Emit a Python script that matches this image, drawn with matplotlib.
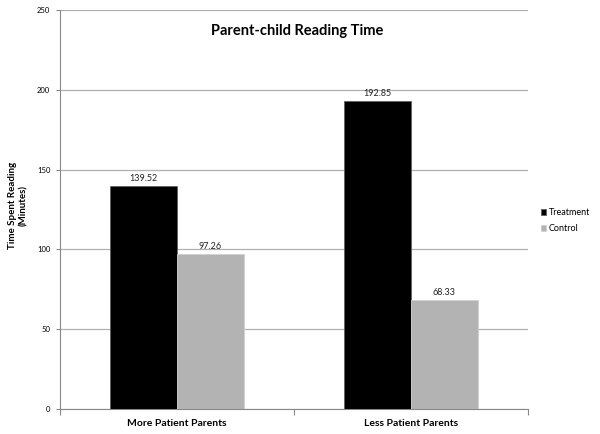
import matplotlib.pyplot as plt
import numpy as np

categories = ['More Patient Parents', 'Less Patient Parents']
series_names = ['Treatment', 'Control']
treatment = [139.52, 192.85]
control = [97.26, 68.33]
y_ticks = [0, 50, 100, 150, 200, 250]

plt.rcParams['font.family'] = ['Lato', 'DejaVu Sans']

fig = plt.figure(figsize=(6, 4.34), dpi=100)
ax = fig.add_axes([0.1, 0.0576, 0.78, 0.9194])

x = np.arange(len(categories))
w = 0.285
b1 = ax.bar(x - w / 2, treatment, w, color='black', edgecolor='#606060', linewidth=0.6,
            label=series_names[0], zorder=3)
b2 = ax.bar(x + w / 2, control, w, color='#b3b3b3', edgecolor='#d0d0d0', linewidth=0.6,
            label=series_names[1], zorder=3)

for bars, vals in [(b1, treatment), (b2, control)]:
    for rect, v in zip(bars, vals):
        ax.text(rect.get_x() + rect.get_width() / 2, v + 2, f'{v:.2f}',
                ha='center', va='bottom', fontsize=6.5, color='#222222')

ax.set_xlim(-0.5, 1.5)
ax.set_ylim(0, 250)
ax.set_yticks(y_ticks)
ax.set_yticklabels([str(t) for t in y_ticks], fontsize=5.5)
ax.tick_params(axis='y', length=3, width=0.8, color='#888888', pad=4)

# tick marks on category boundaries, labels centred
ax.set_xticks([-0.5, 0.5, 1.5])
ax.set_xticklabels([])
ax.tick_params(axis='x', length=4, width=0.8, color='#888888')
for xi, cat in zip(x, categories):
    ax.text(xi, -0.025, cat, transform=ax.get_xaxis_transform(), ha='center', va='top',
            fontsize=7.5, fontweight='bold')

ax.grid(axis='y', color='#b0b0b0', linewidth=0.9, zorder=0)
for s in ['top', 'right']:
    ax.spines[s].set_visible(False)
ax.spines['left'].set_color('#888888')
ax.spines['bottom'].set_color('#888888')

fig.text(297 / 600, 1 - 31 / 434, 'Parent-child Reading Time', ha='center', va='center',
         fontsize=10.5, fontweight='bold')
fig.text(18 / 600, 1 - 205 / 434, 'Time Spent Reading\n(Minutes)', rotation=90, ha='center',
         va='center', fontsize=7, fontweight='bold', linespacing=1.35, multialignment='center')

ax.legend(loc='center left', bbox_to_anchor=(1.01, 0.472), frameon=False, fontsize=6.5,
          handlelength=0.6, handleheight=0.6, handletextpad=0.3, labelspacing=0.8)

fig.savefig('out.png', dpi=100)
